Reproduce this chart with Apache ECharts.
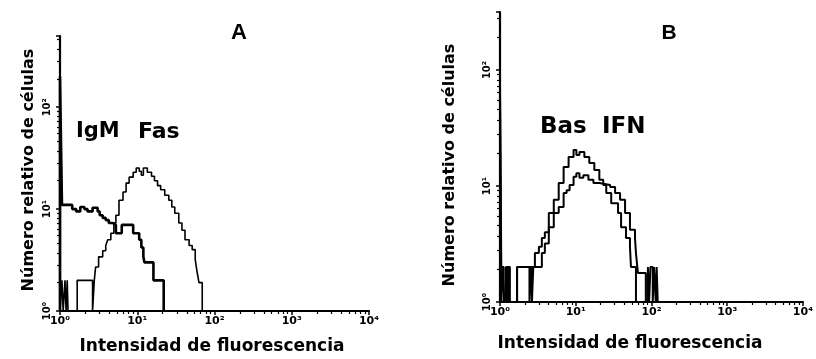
<!DOCTYPE html>
<html>
<head>
<meta charset="utf-8">
<script src="https://cdn.jsdelivr.net/npm/echarts@6/dist/echarts.min.js"></script>
<style>
html,body{margin:0;padding:0;background:#fff;}
#chart{width:816px;height:359px;}
</style>
</head>
<body>
<div id="chart"></div>
<script>
// ---------- data (intensity, relative cell count) ----------
const xTickLabels = {0:'10\u2070',1:'10\u00b9',2:'10\u00b2',3:'10\u00b3',4:'10\u2074'};
const yTickLabels = {0:'10\u2070',1:'10\u00b9',2:'10\u00b2'};

const igmA = [[1,1],[1,200],[1.06,11],[1.44,10],[1.62,9.5],[1.83,10.5],[2.07,10],[2.27,9.5],[2.64,10.3],[3.07,9.5],[3.26,8.7],[3.57,8.2],[3.91,7.8],[4.28,7.3],[4.83,7],[5.29,5.8],[6.3,7],[8.86,5.8],[10.6,5],[11.3,4.2],[12,3.4],[12.4,3],[16.2,2],[22,1]];

const fasA = [[1,1],[1.06,2],[1.1,1],[1.16,2],[1.2,1],[1.24,2],[1.27,1],[1.67,2],[2.64,1],[2.78,2],[2.89,2.7],[3.16,3.4],[3.57,3.9],[3.91,4.4],[4.15,5],[4.55,5.8],[4.98,7.3],[5.29,8.7],[5.8,12.2],[6.54,14.7],[7.17,18],[7.85,20.6],[8.86,23],[9.7,25.3],[10.6,23.5],[11.3,21.5],[12,25.3],[13.5,23],[15.3,21],[16.7,19],[18.3,17],[20.1,15.5],[22.7,13.7],[25.6,12.2],[28,10.5],[30.6,9.1],[34.5,7.3],[37.9,6.2],[41.5,5],[46.9,4.4],[51.4,4],[56.3,3.2],[59.6,2.4],[63,1.9],[69.4,1]];

const highB = [[1,1],[1,75],[1.04,2],[1.12,1],[1.2,2],[1.3,1],[1.68,2],[2.45,1],[2.6,2],[2.89,2.64],[3.26,3],[3.57,3.56],[3.91,4],[4.41,5.85],[5.13,7.6],[5.96,10.6],[6.92,14.6],[8.05,17.8],[9.36,20.4],[10.2,18.5],[11.2,19.6],[13,17.8],[15.1,15.8],[17.6,13.7],[20.5,11.3],[23.1,10.2],[25.3,8.7],[29.4,7.1],[36.2,5.85],[39.7,4.4],[46.1,3.56],[52,3],[53.6,2],[62.4,1]];

const lowB = [[1,1],[1,60],[1.04,1],[1.08,2],[1.14,1],[1.25,2],[1.35,1],[1.68,2],[2.64,1],[2.75,2],[3.57,2.64],[3.91,3.2],[4.41,4.4],[5.13,5.85],[5.96,6.6],[6.92,8.7],[7.58,9.2],[8.3,10.2],[9.36,12],[10.2,12.9],[11.2,11.8],[12.6,12.4],[14.7,11.3],[17.1,10.6],[20.5,10.2],[28.5,9.8],[33.1,8.7],[38.5,7.6],[44.8,5.85],[52,4.2],[60.6,3.56],[62.4,2.64],[66.2,1.78],[84.2,1],[89.7,2],[93,1],[97,2],[104,1],[108,2],[114,1],[117,2],[121,1]];

// ---------- chart ----------
const chart = echarts.init(document.getElementById('chart'), null, {renderer:'canvas'});
const FONT = 'DejaVu Sans';

function powLabel(map){
  return function(v){
    const l = Math.round(Math.log10(v)*1000)/1000;
    return (Number.isInteger(l) && map[l] !== undefined) ? map[l] : '';
  };
}
function xAxisCfg(idx){
  return {
    type:'log', logBase:10, gridIndex:idx, min:1, max:10000,
    axisLine:{lineStyle:{color:'#000', width:2.2}},
    axisTick:{show:true, length:4, lineStyle:{color:'#000', width:1.5}},
    minorTick:{show:true, splitNumber:8, length:3, lineStyle:{color:'#000', width:1.2}},
    splitLine:{show:false},
    axisLabel:{formatter:powLabel(xTickLabels), color:'#000', fontFamily:FONT, fontWeight:'bold', fontSize:11, margin:5, showMaxLabel:true}
  };
}
function yAxisCfg(idx, max){
  return {
    type:'log', logBase:10, gridIndex:idx, min:1, max:max,
    axisLine:{lineStyle:{color:'#000', width:2.2}},
    axisTick:{show:true, length:4, lineStyle:{color:'#000', width:1.5}},
    minorTick:{show:true, splitNumber:10, length:3, lineStyle:{color:'#000', width:1.2}},
    splitLine:{show:false},
    axisLabel:{formatter:powLabel(yTickLabels), rotate:90, color:'#000', fontFamily:FONT, fontWeight:'bold', fontSize:10, margin:8, showMaxLabel:false}
  };
}
function stepSeries(data, xi, w){
  return {type:'line', xAxisIndex:xi, yAxisIndex:xi, step:'end', data:data, symbol:'none',
    lineStyle:{color:'#000', width:w}, animation:false, silent:true};
}
function label(t, x, y, size){
  return {type:'text', style:{text:t, x:x, y:y, align:'left', verticalAlign:'middle', font:'bold '+size+'px "DejaVu Sans"', fill:'#000'}};
}

const option = {
  backgroundColor:'#fff',
  animation:false,
  grid:[
    {left:60, top:36, width:309, height:275},
    {left:500, top:12, width:308, height:290}
  ],
  xAxis:[xAxisCfg(0), xAxisCfg(1)],
  yAxis:[yAxisCfg(0, 500), yAxisCfg(1, 316)],
  series:[
    stepSeries(igmA, 0, 2.6),
    stepSeries(fasA, 0, 1.6),
    stepSeries(highB, 1, 2),
    stepSeries(lowB, 1, 2)
  ],
  graphic:[
    {type:'text', style:{text:'A', x:239, y:33, align:'center', verticalAlign:'middle', font:'bold 22px "Liberation Sans"', fill:'#000'}},
    {type:'text', style:{text:'B', x:669, y:33, align:'center', verticalAlign:'middle', font:'bold 21px "Liberation Sans"', fill:'#000'}},
    label('IgM', 76, 132, 21),
    label('Fas', 138, 132, 22),
    label('Bas', 540, 127, 23),
    label('IFN', 602, 127, 23),
    {type:'text', x:29, y:170, rotation:Math.PI/2, style:{text:'N\u00famero relativo de c\u00e9lulas', x:0, y:0, align:'center', verticalAlign:'middle', font:'bold 16px "DejaVu Sans"', fill:'#000'}},
    {type:'text', x:450, y:165, rotation:Math.PI/2, style:{text:'N\u00famero relativo de c\u00e9lulas', x:0, y:0, align:'center', verticalAlign:'middle', font:'bold 16px "DejaVu Sans"', fill:'#000'}},
    {type:'text', style:{text:'Intensidad de fluorescencia', x:212, y:347, align:'center', verticalAlign:'middle', font:'bold 17px "DejaVu Sans"', fill:'#000'}},
    {type:'text', style:{text:'Intensidad de fluorescencia', x:630, y:344, align:'center', verticalAlign:'middle', font:'bold 17px "DejaVu Sans"', fill:'#000'}}
  ]
};
chart.setOption(option);
</script>
</body>
</html>
